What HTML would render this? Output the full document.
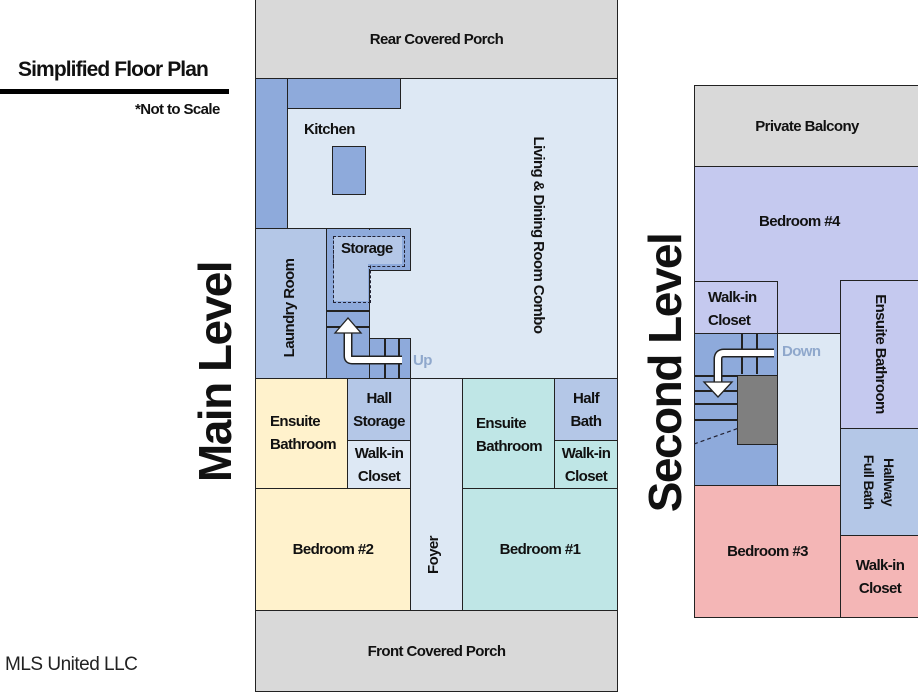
<!DOCTYPE html>
<html><head><style>
body{margin:0;width:918px;height:690px;background:#fff;position:relative;overflow:hidden;font-family:"Liberation Sans Narrow","Liberation Sans",sans-serif;font-weight:bold;color:#111;letter-spacing:-0.6px}
.r{position:absolute;box-sizing:border-box;border:1.5px solid #222}
.t{position:absolute;font-size:15px;line-height:23px;white-space:nowrap}
.c{display:flex;align-items:center;justify-content:center;text-align:center;font-size:15px}
.v{position:absolute;transform:rotate(90deg);white-space:nowrap;font-size:15px}
.vl{position:absolute;transform:rotate(-90deg);white-space:nowrap}
</style></head><body>
<div class="t" style="left:18px;top:58px;font-size:21px;letter-spacing:-0.9px">Simplified Floor Plan</div>
<div style="position:absolute;left:0;top:89px;width:229px;height:5px;background:#000"></div>
<div class="t" style="left:135px;top:98px;font-size:15px">*Not to Scale</div>
<div class="vl" style="left:215px;top:372px;width:240px;text-align:center;font-size:46px;line-height:50px;margin-left:-120px;margin-top:-25px;letter-spacing:-1.5px">Main Level</div>
<div class="vl" style="left:665px;top:373px;width:280px;text-align:center;font-size:46px;line-height:50px;margin-left:-140px;margin-top:-25px;letter-spacing:-1.5px">Second Level</div>
<div style="position:absolute;left:5px;top:654px;font-family:'Liberation Sans',sans-serif;font-weight:normal;font-size:19px;color:#222;letter-spacing:-0.5px">MLS United LLC</div>

<div class="r c" style="left:255px;top:0;width:363px;height:80px;background:#d9d9d9;border-top:none">Rear Covered Porch</div>
<div class="r" style="left:255px;top:78px;width:363px;height:534px;background:#dde8f4"></div>
<div class="r" style="left:255px;top:78px;width:146px;height:31px;background:#8eaadb"></div>
<div class="r" style="left:255px;top:78px;width:33px;height:151px;background:#8eaadb"></div>
<div style="position:absolute;left:257px;top:80px;width:29px;height:27px;background:#8eaadb"></div>
<div class="r" style="left:332px;top:146px;width:34px;height:49px;background:#8eaadb"></div>
<div class="t" style="left:304px;top:118px">Kitchen</div>
<div class="v" style="left:538px;top:235px;width:220px;margin-left:-110px;text-align:center;line-height:20px;margin-top:-10px">Living &amp; Dining Room Combo</div>
<div class="r" style="left:255px;top:228px;width:72px;height:151px;background:#b4c7e7"></div>
<div class="vl" style="left:290px;top:308px;width:120px;margin-left:-60px;text-align:center;font-size:15px;line-height:20px;margin-top:-10px">Laundry Room</div>
<div class="r" style="left:326px;top:228px;width:85px;height:43px;background:#8eaadb"></div>
<div class="r" style="left:326px;top:228px;width:44px;height:151px;background:#8eaadb"></div>
<div style="position:absolute;left:328px;top:230px;width:80px;height:39px;background:#8eaadb"></div>
<div class="r" style="left:369px;top:338px;width:42px;height:41px;background:#8eaadb"></div>
<div style="position:absolute;left:333px;top:236px;width:70px;height:29px;border:1.3px dashed #223"></div>
<div style="position:absolute;left:333px;top:236px;width:36px;height:66px;border:1.3px dashed #223;border-top:none"></div>
<div style="position:absolute;left:334px;top:237px;width:68px;height:27px;background:#b4c7e7"></div>
<div style="position:absolute;left:334px;top:250px;width:34px;height:51px;background:#b4c7e7"></div>
<div class="t" style="left:341px;top:237px">Storage</div>
<div style="position:absolute;left:327px;top:310px;width:43px;height:1.5px;background:#222"></div>
<div style="position:absolute;left:327px;top:326px;width:43px;height:1.5px;background:#222"></div>
<div style="position:absolute;left:384px;top:338px;width:1.5px;height:40px;background:#222"></div>
<div style="position:absolute;left:398px;top:338px;width:1.5px;height:40px;background:#222"></div>
<svg style="position:absolute;left:326px;top:310px" width="85" height="70"><path d="M76 50 H26 Q22 50 22 46 V22" fill="none" stroke="#222" stroke-width="9"/><path d="M76 50 H26 Q22 50 22 46 V22" fill="none" stroke="#fff" stroke-width="6"/><polygon points="9,23 22,8 35,23" fill="#fff" stroke="#222" stroke-width="1.3"/></svg>
<div class="t" style="left:413px;top:349px;color:#8fa8cc">Up</div>
<div class="r" style="left:255px;top:378px;width:93px;height:111px;background:#fff2cc"></div>
<div class="t" style="left:270px;top:410px;line-height:23px">Ensuite<br>Bathroom</div>
<div class="r c" style="left:347px;top:378px;width:64px;height:63px;background:#b4c7e7;line-height:23px">Hall<br>Storage</div>
<div class="r c" style="left:347px;top:440px;width:64px;height:49px;background:#dde8f4;line-height:23px">Walk-in<br>Closet</div>
<div class="r c" style="left:255px;top:488px;width:156px;height:123px;background:#fff2cc">Bedroom #2</div>
<div class="r" style="left:410px;top:378px;width:53px;height:233px;background:#dde8f4"></div>
<div class="vl" style="left:434px;top:555px;width:60px;margin-left:-30px;text-align:center;font-size:15px;line-height:20px;margin-top:-10px">Foyer</div>
<div class="r" style="left:462px;top:378px;width:93px;height:111px;background:#bfe6e6"></div>
<div class="t" style="left:476px;top:412px;line-height:23px">Ensuite<br>Bathroom</div>
<div class="r c" style="left:554px;top:378px;width:64px;height:63px;background:#b4c7e7;line-height:23px">Half<br>Bath</div>
<div class="r c" style="left:554px;top:440px;width:64px;height:49px;background:#bfe6e6;line-height:23px">Walk-in<br>Closet</div>
<div class="r c" style="left:462px;top:488px;width:156px;height:123px;background:#bfe6e6">Bedroom #1</div>
<div class="r c" style="left:255px;top:610px;width:363px;height:82px;background:#d9d9d9">Front Covered Porch</div>

<div class="r c" style="left:694px;top:85px;width:226px;height:82px;background:#d9d9d9">Private Balcony</div>
<div class="r" style="left:694px;top:166px;width:226px;height:320px;background:#c5c9ef"></div>
<div class="t" style="left:759px;top:210px">Bedroom #4</div>
<div class="r" style="left:694px;top:281px;width:84px;height:53px;background:#c5c9ef"></div>
<div class="t" style="left:708px;top:286px;line-height:23px">Walk-in<br>Closet</div>
<div class="r" style="left:840px;top:280px;width:80px;height:149px;background:#c5c9ef"></div>
<div class="v" style="left:880px;top:354px;width:140px;margin-left:-70px;text-align:center;line-height:20px;margin-top:-10px">Ensuite Bathroom</div>
<div class="r" style="left:777px;top:333px;width:64px;height:153px;background:#dde8f4"></div>
<div class="t" style="left:782px;top:340px;color:#8fa8cc">Down</div>
<div class="r" style="left:694px;top:333px;width:84px;height:153px;background:#8eaadb"></div>
<div style="position:absolute;left:741px;top:334px;width:1.5px;height:40px;background:#222"></div>
<div style="position:absolute;left:756px;top:334px;width:1.5px;height:40px;background:#222"></div>
<div style="position:absolute;left:695px;top:375px;width:42px;height:1.5px;background:#222"></div>
<div style="position:absolute;left:695px;top:390px;width:42px;height:1.5px;background:#222"></div>
<div style="position:absolute;left:695px;top:403px;width:42px;height:1.5px;background:#222"></div>
<div style="position:absolute;left:695px;top:419px;width:42px;height:1.5px;background:#222"></div>
<svg style="position:absolute;left:694px;top:340px" width="84" height="110"><line x1="0" y1="104" x2="45" y2="88" stroke="#223" stroke-width="1.2" stroke-dasharray="4,3"/></svg>
<div class="r" style="left:737px;top:375px;width:41px;height:70px;background:#7f7f7f"></div>
<svg style="position:absolute;left:694px;top:340px" width="84" height="70"><path d="M80 13 H30 Q24 13 24 19 V42" fill="none" stroke="#222" stroke-width="9"/><path d="M80 13 H30 Q24 13 24 19 V42" fill="none" stroke="#fff" stroke-width="6"/><polygon points="10,42 24,57 38,42" fill="#fff" stroke="#222" stroke-width="1.3"/></svg>
<div class="r" style="left:840px;top:428px;width:80px;height:108px;background:#b4c7e7"></div>
<div class="v" style="left:879px;top:482px;width:100px;margin-left:-50px;text-align:center;line-height:20px;margin-top:-20px;font-size:14px">Hallway<br>Full Bath</div>
<div class="r c" style="left:694px;top:485px;width:147px;height:133px;background:#f4b6b6">Bedroom #3</div>
<div class="r c" style="left:840px;top:535px;width:80px;height:83px;background:#f4b6b6;line-height:23px">Walk-in<br>Closet</div>
</body></html>
